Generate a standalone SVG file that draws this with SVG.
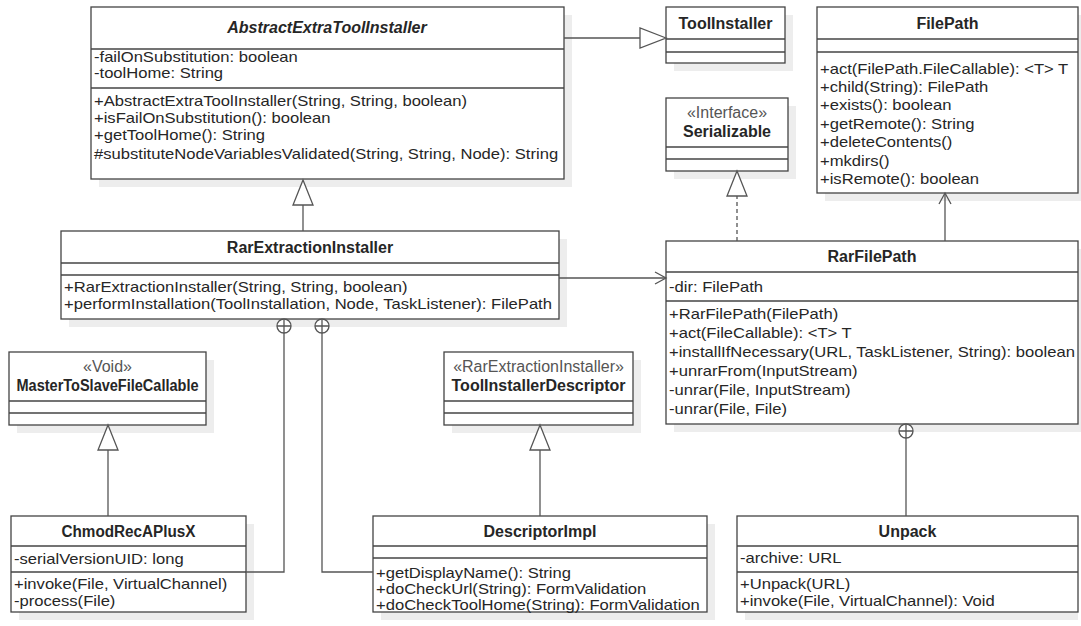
<svg xmlns="http://www.w3.org/2000/svg" width="1081" height="626" viewBox="0 0 1081 626">
<style>
.sh{fill:#ededed}
.bx{fill:#fff;stroke:#444;stroke-width:1.3}
.sp{stroke:#444;stroke-width:1.3}
.t{font-family:"Liberation Sans",Arial,sans-serif;font-size:14px;fill:#262626}
.n{font-weight:bold;text-anchor:middle;font-size:16px}
.i{font-style:italic}
.s{fill:#555;text-anchor:middle;font-size:16px}
.ln{stroke:#555;stroke-width:1.3;fill:none}
.tri{fill:#fff;stroke:#555;stroke-width:1.3}
.dash{stroke-dasharray:4 3}
</style>
<rect width="1081" height="626" fill="#fff"/>

<g id="AbstractExtraToolInstaller">
<rect class="sh" x="99" y="15" width="473" height="172"/>
<rect class="bx" x="91" y="7" width="473" height="172"/>
<line class="sp" x1="91" y1="49" x2="564" y2="49"/>
<line class="sp" x1="91" y1="88" x2="564" y2="88"/>
<text class="t n i" x="327" y="33">AbstractExtraToolInstaller</text>
<text class="t" transform="translate(94,62) scale(1.186 1)">-failOnSubstitution: boolean</text>
<text class="t" transform="translate(94,78) scale(1.186 1)">-toolHome: String</text>
<text class="t" transform="translate(94,106) scale(1.186 1)">+AbstractExtraToolInstaller(String, String, boolean)</text>
<text class="t" transform="translate(94,123) scale(1.186 1)">+isFailOnSubstitution(): boolean</text>
<text class="t" transform="translate(94,140) scale(1.186 1)">+getToolHome(): String</text>
<text class="t" transform="translate(94,159) scale(1.186 1)">#substituteNodeVariablesValidated(String, String, Node): String</text>
</g>

<g id="ToolInstaller">
<rect class="sh" x="674" y="15" width="119" height="56"/>
<rect class="bx" x="666" y="7" width="119" height="56"/>
<line class="sp" x1="666" y1="39" x2="785" y2="39"/>
<line class="sp" x1="666" y1="52" x2="785" y2="52"/>
<text class="t n" x="725.5" y="29">ToolInstaller</text>
</g>

<g id="FilePath">
<rect class="sh" x="825" y="15" width="261" height="186"/>
<rect class="bx" x="817" y="7" width="261" height="186"/>
<line class="sp" x1="817" y1="39" x2="1078" y2="39"/>
<line class="sp" x1="817" y1="52" x2="1078" y2="52"/>
<text class="t n" x="947.5" y="29">FilePath</text>
<text class="t" transform="translate(820,74) scale(1.186 1)">+act(FilePath.FileCallable): &lt;T&gt; T</text>
<text class="t" transform="translate(820,92) scale(1.186 1)">+child(String): FilePath</text>
<text class="t" transform="translate(820,110) scale(1.186 1)">+exists(): boolean</text>
<text class="t" transform="translate(820,129) scale(1.186 1)">+getRemote(): String</text>
<text class="t" transform="translate(820,147) scale(1.186 1)">+deleteContents()</text>
<text class="t" transform="translate(820,166) scale(1.186 1)">+mkdirs()</text>
<text class="t" transform="translate(820,184) scale(1.186 1)">+isRemote(): boolean</text>
</g>

<g id="Serializable">
<rect class="sh" x="674" y="106" width="122" height="73"/>
<rect class="bx" x="666" y="98" width="122" height="73"/>
<line class="sp" x1="666" y1="147" x2="788" y2="147"/>
<line class="sp" x1="666" y1="159" x2="788" y2="159"/>
<text class="t s" x="727" y="118">«Interface»</text>
<text class="t n" x="727" y="137">Serializable</text>
</g>

<g id="RarExtractionInstaller">
<rect class="sh" x="69" y="239" width="498" height="88"/>
<rect class="bx" x="61" y="231" width="498" height="88"/>
<line class="sp" x1="61" y1="263" x2="559" y2="263"/>
<line class="sp" x1="61" y1="275" x2="559" y2="275"/>
<text class="t n" x="310" y="253">RarExtractionInstaller</text>
<text class="t" transform="translate(64,292) scale(1.186 1)">+RarExtractionInstaller(String, String, boolean)</text>
<text class="t" transform="translate(64,309) scale(1.186 1)">+performInstallation(ToolInstallation, Node, TaskListener): FilePath</text>
</g>

<g id="RarFilePath">
<rect class="sh" x="674" y="249" width="412" height="183"/>
<rect class="bx" x="666" y="241" width="412" height="183"/>
<line class="sp" x1="666" y1="272" x2="1078" y2="272"/>
<line class="sp" x1="666" y1="301" x2="1078" y2="301"/>
<text class="t n" x="872" y="262">RarFilePath</text>
<text class="t" transform="translate(669,292) scale(1.186 1)">-dir: FilePath</text>
<text class="t" transform="translate(669,319) scale(1.186 1)">+RarFilePath(FilePath)</text>
<text class="t" transform="translate(669,338) scale(1.186 1)">+act(FileCallable): &lt;T&gt; T</text>
<text class="t" transform="translate(669,357) scale(1.186 1)">+installIfNecessary(URL, TaskListener, String): boolean</text>
<text class="t" transform="translate(669,376) scale(1.186 1)">+unrarFrom(InputStream)</text>
<text class="t" transform="translate(669,395) scale(1.186 1)">-unrar(File, InputStream)</text>
<text class="t" transform="translate(669,414) scale(1.186 1)">-unrar(File, File)</text>
</g>

<g id="MasterToSlaveFileCallable">
<rect class="sh" x="17" y="360" width="197" height="73"/>
<rect class="bx" x="9" y="352" width="197" height="73"/>
<line class="sp" x1="9" y1="401" x2="206" y2="401"/>
<line class="sp" x1="9" y1="413" x2="206" y2="413"/>
<text class="t s" x="107.5" y="372">«Void»</text>
<text class="t n" x="107.5" y="391" textLength="182" lengthAdjust="spacingAndGlyphs">MasterToSlaveFileCallable</text>
</g>

<g id="ToolInstallerDescriptor">
<rect class="sh" x="452" y="360" width="189" height="73"/>
<rect class="bx" x="444" y="352" width="189" height="73"/>
<line class="sp" x1="444" y1="401" x2="633" y2="401"/>
<line class="sp" x1="444" y1="413" x2="633" y2="413"/>
<text class="t s" x="538.5" y="372">«RarExtractionInstaller»</text>
<text class="t n" x="538.5" y="391">ToolInstallerDescriptor</text>
</g>

<g id="ChmodRecAPlusX">
<rect class="sh" x="19" y="524" width="235" height="96"/>
<rect class="bx" x="11" y="516" width="235" height="96"/>
<line class="sp" x1="11" y1="546" x2="246" y2="546"/>
<line class="sp" x1="11" y1="572" x2="246" y2="572"/>
<text class="t n" x="128.5" y="537" textLength="134" lengthAdjust="spacingAndGlyphs">ChmodRecAPlusX</text>
<text class="t" transform="translate(14,564) scale(1.186 1)">-serialVersionUID: long</text>
<text class="t" transform="translate(14,589) scale(1.186 1)">+invoke(File, VirtualChannel)</text>
<text class="t" transform="translate(14,606) scale(1.186 1)">-process(File)</text>
</g>

<g id="DescriptorImpl">
<rect class="sh" x="381" y="524" width="334" height="96"/>
<rect class="bx" x="373" y="516" width="334" height="96"/>
<line class="sp" x1="373" y1="546" x2="707" y2="546"/>
<line class="sp" x1="373" y1="558" x2="707" y2="558"/>
<text class="t n" x="540" y="537">DescriptorImpl</text>
<text class="t" transform="translate(376,578) scale(1.186 1)">+getDisplayName(): String</text>
<text class="t" transform="translate(376,594) scale(1.186 1)">+doCheckUrl(String): FormValidation</text>
<text class="t" transform="translate(376,610) scale(1.186 1)">+doCheckToolHome(String): FormValidation</text>
</g>

<g id="Unpack">
<rect class="sh" x="745" y="524" width="333" height="96"/>
<rect class="bx" x="737" y="516" width="341" height="96"/>
<line class="sp" x1="737" y1="546" x2="1078" y2="546"/>
<line class="sp" x1="737" y1="572" x2="1078" y2="572"/>
<text class="t n" x="907.5" y="537">Unpack</text>
<text class="t" transform="translate(740,563) scale(1.186 1)">-archive: URL</text>
<text class="t" transform="translate(740,589) scale(1.186 1)">+Unpack(URL)</text>
<text class="t" transform="translate(740,606) scale(1.186 1)">+invoke(File, VirtualChannel): Void</text>
</g>

<g id="connectors">
<line class="ln" x1="564" y1="38" x2="640" y2="38"/>
<polygon class="tri" points="666,38 640,28 640,48"/>
<line class="ln" x1="303" y1="231" x2="303" y2="205"/>
<polygon class="tri" points="303,180 293,205 313,205"/>
<line class="ln" x1="559" y1="278" x2="666" y2="278"/>
<polyline class="ln" points="655,272 666,278 655,284"/>
<line class="ln dash" x1="737" y1="241" x2="737" y2="196"/>
<polygon class="tri" points="737,171 727,196 747,196"/>
<line class="ln" x1="945" y1="241" x2="945" y2="193"/>
<polyline class="ln" points="939,204 945,193 951,204"/>
<circle class="tri" cx="284" cy="326" r="7"/>
<path class="ln" d="M277,326H291M284,319V333"/>
<polyline class="ln" points="284,333 284,572 246,572"/>
<circle class="tri" cx="322" cy="326" r="7"/>
<path class="ln" d="M315,326H329M322,319V333"/>
<polyline class="ln" points="322,333 322,572 373,572"/>
<circle class="tri" cx="906" cy="431" r="7"/>
<path class="ln" d="M899,431H913M906,424V438"/>
<line class="ln" x1="906" y1="438" x2="906" y2="516"/>
<line class="ln" x1="108" y1="516" x2="108" y2="450"/>
<polygon class="tri" points="108,425 98,450 118,450"/>
<line class="ln" x1="540" y1="516" x2="540" y2="450"/>
<polygon class="tri" points="540,425 530,450 550,450"/>
</g>
</svg>
